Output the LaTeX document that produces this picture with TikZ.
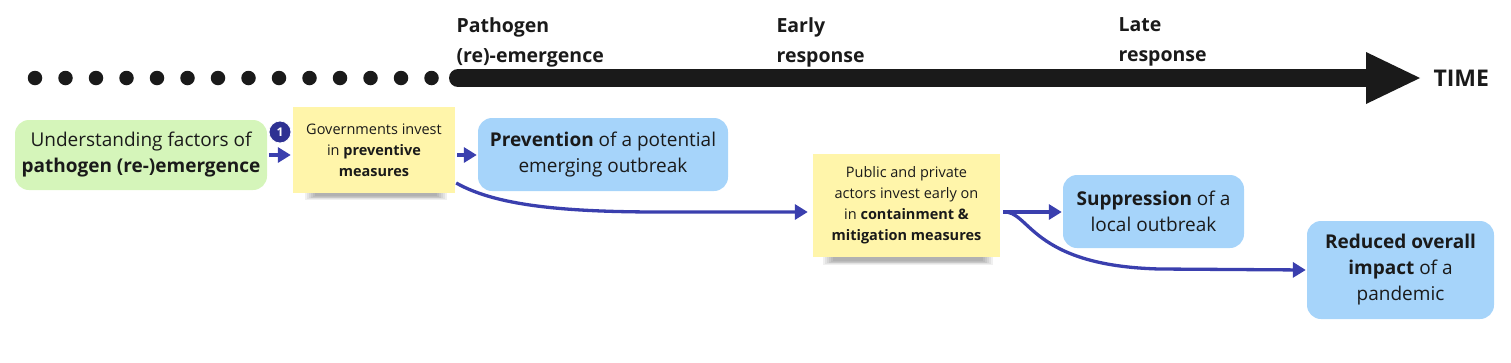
\documentclass[tikz,border=0pt]{standalone}
\usepackage{fontspec}
\setmainfont{Open Sans}
\usetikzlibrary{arrows.meta,calc}
\definecolor{gfill}{HTML}{D5F5BA}
\definecolor{bfill}{HTML}{A6D4FA}
\definecolor{yfill}{HTML}{FFF5AA}
\definecolor{acol}{HTML}{3A3FAE}
\definecolor{badge}{HTML}{2E3192}
\definecolor{tcol}{HTML}{1A1A1A}
\tikzset{
  box/.style={rounded corners=14pt, inner sep=0pt, align=center, text=tcol,
    font=\fontsize{19}{26}\selectfont},
  greenbox/.style={box, fill=gfill},
  bluebox/.style={box, fill=bfill},
  sticky/.style={inner sep=0pt, align=center, fill=yfill, text=tcol,
    font=\fontsize{14.5}{21}\selectfont},
  flow/.style={draw=acol, line width=3.3pt, -{Triangle[length=13pt,width=15pt]}},
  phase/.style={anchor=north west, align=left, text=tcol,
    font=\bfseries\fontsize{19.5}{30}\selectfont},
  dot/.style={circle, fill=tcol, minimum size=14.5pt, inner sep=0pt}
}
\begin{document}
\begin{tikzpicture}[x=1pt,y=-1pt]
\useasboundingbox (0,0) rectangle (1511,362);
% timeline dots
\foreach \i in {0,...,13} {
  \node[dot] (d\i) at ({35+\i*30.5},78) {};
}
\coordinate (ls) at (458,78);
\coordinate (le) at (1420,78);
\draw[tcol, line width=18pt, line cap=round] (ls) -- (1372,78);
\fill[tcol] (1366,52) -- (le) -- (1366,104) -- cycle;
\node[anchor=west, text=tcol, font=\bfseries\fontsize{23}{23}\selectfont] (time) at (1430,78) {TIME};
% phase labels
\node[phase] (p1) at (453,14) {Pathogen\\(re)-emergence};
\node[phase] (p2) at (773,14) {Early\\response};
\node[phase] (p3) at (1115,14) {Late\\response};
% soft shadows for stickies
\foreach \k in {0,...,5} {
  \fill[black, opacity=0.06] ({305+\k*2},{188+\k*0.5}) rectangle ({447-\k*2},{200-\k*0.8});
  \fill[black, opacity=0.06] ({823+\k*2},{252+\k*0.5}) rectangle ({993-\k*2},{265-\k*0.8});
}
% nodes
\node[greenbox, minimum width=252pt, minimum height=70pt] (g) at (141,155)
  {Understanding factors of\\\textbf{pathogen (re-)emergence}};
\node[sticky, minimum width=162pt, minimum height=86pt] (y1) at (374,150)
  {Governments invest\\in \textbf{preventive}\\\textbf{measures}};
\node[bluebox, minimum width=250pt, minimum height=73pt] (b1) at (603,154.5)
  {\textbf{Prevention} of a potential\\emerging outbreak};
\node[sticky, minimum width=187pt, minimum height=103pt] (y2) at (906.5,205.5)
  {Public and private\\actors invest early on\\in \textbf{containment \&}\\\textbf{mitigation measures}};
\node[bluebox, minimum width=181pt, minimum height=73pt] (b2) at (1153.5,211.5)
  {\textbf{Suppression} of a\\local outbreak};
\node[bluebox, minimum width=187pt, minimum height=98pt] (b3) at (1400.5,270)
  {\textbf{Reduced overall}\\\textbf{impact} of a\\pandemic};
% badge
\node[circle, fill=badge, draw=white, line width=0.8pt, minimum size=22pt, inner sep=0pt,
  text=white, font=\bfseries\fontsize{12}{12}\selectfont] (n1) at (280,132) {1};
% connectors
\draw[flow] ([xshift=2pt]g.east) -- ([xshift=-2pt]y1.west |- g.east);
\draw[flow] ([xshift=2pt,yshift=-5pt]y1.east) -- ([xshift=-1pt,yshift=-5pt]b1.west |- y1.east);
\draw[flow] ([xshift=1pt,yshift=-33pt]y1.east) .. controls (495,205) and (560,212) .. (660,212) -- ([xshift=-5pt,yshift=-6.5pt]y2.west);
\draw[flow] ([xshift=3pt,yshift=-6.5pt]y2.east) -- ([xshift=-1pt,yshift=-0.5pt]b2.west);
\draw[flow]
  ([xshift=3pt,yshift=-6.5pt]y2.east) .. controls (1030,210) and (1030,266) .. (1160,269) -- ([xshift=-1pt]b3.west);
\end{tikzpicture}
\end{document}
